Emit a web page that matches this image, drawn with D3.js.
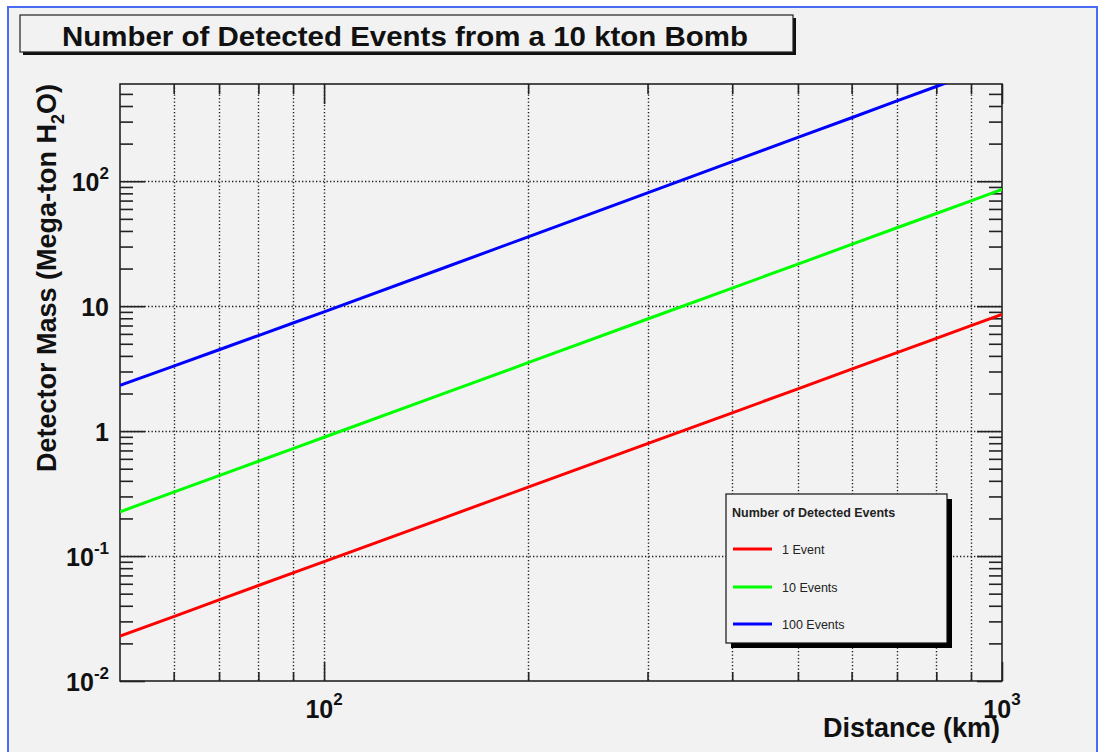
<!DOCTYPE html>
<html>
<head>
<meta charset="utf-8">
<script src="https://cdn.jsdelivr.net/npm/d3@7"></script>
<style>
  html, body { margin: 0; padding: 0; background: #ffffff; }
  svg { display: block; font-family: "Liberation Sans", Arial, Helvetica, sans-serif; }
</style>
</head>
<body>
<svg id="chart" width="1101" height="752"></svg>
<script>
// Distance from the source (km)
const distances = [50, 60, 70, 80, 90, 100, 150, 200, 300, 400, 500, 600, 700, 800, 900, 1000];
// Detector mass (Mega-ton H2O) needed for a given number of detected events
const oneEvent      = [0.0229, 0.0328, 0.0446, 0.0581, 0.0733, 0.0903, 0.2015, 0.356, 0.795, 1.40, 2.18, 3.13, 4.25, 5.53, 6.98, 8.6];
const tenEvents     = [0.226, 0.3245, 0.4405, 0.574, 0.725, 0.893, 1.995, 3.53, 7.89, 13.96, 21.7, 31.2, 42.4, 55.2, 69.7, 86.0];
const hundredEvents = [2.32, 3.31, 4.48, 5.82, 7.33, 9.0, 20.2, 35.9, 80.8, 143.5, 224, 322, 439, 573, 725, 895];

const seriesNames  = ["1 Event", "10 Events", "100 Events"];
const seriesColors = ["#ff0000", "#00ff00", "#0000ff"];
const seriesValues = [oneEvent, tenEvents, hundredEvents];

// Labelled decades on each axis
const xLabelTicks = [{ v: 100, base: "10", exp: "2" }, { v: 1000, base: "10", exp: "3" }];
const yLabelTicks = [
  { v: 0.01, base: "10", exp: "-2" },
  { v: 0.1,  base: "10", exp: "-1" },
  { v: 1,    base: "1",  exp: "" },
  { v: 10,   base: "10", exp: "" },
  { v: 100,  base: "10", exp: "2" }
];

const svg = d3.select("#chart");

// Canvas: grey pad with a blue frame
svg.append("rect").attr("x", 8).attr("y", 7).attr("width", 1089).attr("height", 760)
  .attr("fill", "#f2f2f2").attr("stroke", "#4a6cf2").attr("stroke-width", 2);

const plot = { left: 120, right: 1002, top: 84, bottom: 681 };

const x = d3.scaleLog().domain([50, 1000]).range([plot.left, plot.right]);
const y = d3.scaleLog().domain([0.01, 600]).range([plot.bottom, plot.top]);

const isDecade = v => Math.abs(Math.log10(v) - Math.round(Math.log10(v))) < 1e-9;
const inside = (v, dom) => v > dom[0] * 1.0001 && v < dom[1] / 1.0001;

const xMajor = x.ticks().filter(isDecade).filter(v => inside(v, x.domain()) || v === 1000);
const xMinor = x.ticks().filter(v => !isDecade(v) && inside(v, x.domain()));
const yMajor = y.ticks().filter(isDecade);
const yMinor = y.ticks().filter(v => !isDecade(v) && inside(v, y.domain()));

// Dotted grid
const grid = svg.append("g").attr("stroke", "#1a1a1a").attr("stroke-width", 1.4)
  .attr("stroke-dasharray", "1.3,2.2");
grid.selectAll("line.gx").data(xMinor.concat(xMajor.filter(v => inside(v, x.domain()))))
  .join("line").attr("class", "gx")
  .attr("x1", d => Math.round(x(d)) + 0.5).attr("x2", d => Math.round(x(d)) + 0.5)
  .attr("y1", plot.top).attr("y2", plot.bottom);
grid.selectAll("line.gy").data(yMajor.filter(v => inside(v, y.domain())))
  .join("line").attr("class", "gy")
  .attr("y1", d => Math.round(y(d)) + 0.5).attr("y2", d => Math.round(y(d)) + 0.5)
  .attr("x1", plot.left).attr("x2", plot.right);

// Tick marks (pointing inward on all four sides)
function tickAxis(axisFn, scale, values, size, transform) {
  const g = svg.append("g").attr("transform", transform)
    .call(axisFn(scale).tickValues(values).tickSize(size).tickFormat(""));
  g.select(".domain").remove();
  g.selectAll(".tick line").attr("stroke", "#222").attr("stroke-width", 1.6);
  return g;
}
tickAxis(d3.axisBottom, x, xMinor, -9, `translate(0,${plot.bottom})`);
tickAxis(d3.axisBottom, x, xMajor, -19, `translate(0,${plot.bottom})`);
tickAxis(d3.axisTop, x, xMinor, -10, `translate(0,${plot.top})`);
tickAxis(d3.axisTop, x, xMajor, -20, `translate(0,${plot.top})`);
tickAxis(d3.axisLeft, y, yMinor, -13, `translate(${plot.left},0)`);
tickAxis(d3.axisLeft, y, yMajor, -25, `translate(${plot.left},0)`);
tickAxis(d3.axisRight, y, yMinor, -13, `translate(${plot.right},0)`);
tickAxis(d3.axisRight, y, yMajor, -25, `translate(${plot.right},0)`);

// Frame
svg.append("rect").attr("x", plot.left).attr("y", plot.top)
  .attr("width", plot.right - plot.left).attr("height", plot.bottom - plot.top)
  .attr("fill", "none").attr("stroke", "#222").attr("stroke-width", 1.6);

// Curves, clipped to the frame
svg.append("clipPath").attr("id", "plotClip").append("rect")
  .attr("x", plot.left).attr("y", plot.top)
  .attr("width", plot.right - plot.left).attr("height", plot.bottom - plot.top);

const line = d3.line().x(d => x(d[0])).y(d => y(d[1]));
svg.append("g").attr("clip-path", "url(#plotClip)")
  .selectAll("path").data(seriesValues).join("path")
  .attr("d", vals => line(distances.map((dist, i) => [dist, vals[i]])))
  .attr("fill", "none")
  .attr("stroke", (d, i) => seriesColors[i])
  .attr("stroke-width", 3);

// Tick labels with exponents
function powerLabel(g, t, supDy, supSize) {
  const text = g.append("text");
  text.append("tspan").text(t.base);
  if (t.exp) text.append("tspan").attr("dy", supDy).attr("font-size", supSize).text(t.exp);
  return text;
}
xLabelTicks.forEach(t => {
  const g = svg.append("g");
  powerLabel(g, t, -13, 17)
    .attr("x", x(t.v)).attr("y", 718).attr("text-anchor", "middle")
    .attr("font-size", 25).attr("font-weight", "bold").attr("fill", "#111");
});
yLabelTicks.forEach(t => {
  const g = svg.append("g");
  powerLabel(g, t, -12, 17)
    .attr("x", 109).attr("y", y(t.v) + 10).attr("text-anchor", "end")
    .attr("font-size", 25).attr("font-weight", "bold").attr("fill", "#111");
});

// Axis titles
svg.append("text").attr("x", 1000).attr("y", 737).attr("text-anchor", "end")
  .attr("font-size", 27).attr("font-weight", "bold").attr("fill", "#111")
  .text("Distance (km)");

const yTitle = svg.append("text")
  .attr("transform", `translate(56,${plot.top}) rotate(-90)`)
  .attr("text-anchor", "end").attr("font-size", 27).attr("font-weight", "bold").attr("fill", "#111");
yTitle.append("tspan").text("Detector Mass (Mega-ton H");
yTitle.append("tspan").attr("dy", 8).attr("font-size", 18).text("2");
yTitle.append("tspan").attr("dy", -8).text("O)");

// Title box with drop shadow
svg.append("rect").attr("x", 23).attr("y", 18).attr("width", 773).attr("height", 37).attr("fill", "#111");
svg.append("rect").attr("x", 20).attr("y", 15).attr("width", 773).attr("height", 37)
  .attr("fill", "#f2f2f2").attr("stroke", "#222").attr("stroke-width", 1.2);
svg.append("text").attr("x", 405).attr("y", 46).attr("text-anchor", "middle")
  .attr("font-size", 28).attr("font-weight", "bold").attr("fill", "#111")
  .attr("textLength", 686).attr("lengthAdjust", "spacingAndGlyphs")
  .text("Number of Detected Events from a 10 kton Bomb");

// Legend
const lg = { x: 726, y: 494, w: 221, h: 149 };
svg.append("rect").attr("x", lg.x + 5).attr("y", lg.y + 5).attr("width", lg.w).attr("height", lg.h).attr("fill", "#000");
svg.append("rect").attr("x", lg.x).attr("y", lg.y).attr("width", lg.w).attr("height", lg.h)
  .attr("fill", "#f2f2f2").attr("stroke", "#111").attr("stroke-width", 1.2);
svg.append("text").attr("x", lg.x + 6).attr("y", lg.y + 23)
  .attr("font-size", 12.5).attr("font-weight", "bold").attr("fill", "#222")
  .text("Number of Detected Events");
const entryY = [549, 587, 624];
const entries = svg.append("g").selectAll("g").data(seriesNames).join("g")
  .attr("transform", (d, i) => `translate(0,${entryY[i]})`);
entries.append("line").attr("x1", lg.x + 7).attr("x2", lg.x + 46)
  .attr("stroke", (d, i) => seriesColors[i]).attr("stroke-width", 3);
entries.append("text").attr("x", lg.x + 56).attr("y", 4.5)
  .attr("font-size", 12.5).attr("fill", "#222").text(d => d);
</script>
</body>
</html>
